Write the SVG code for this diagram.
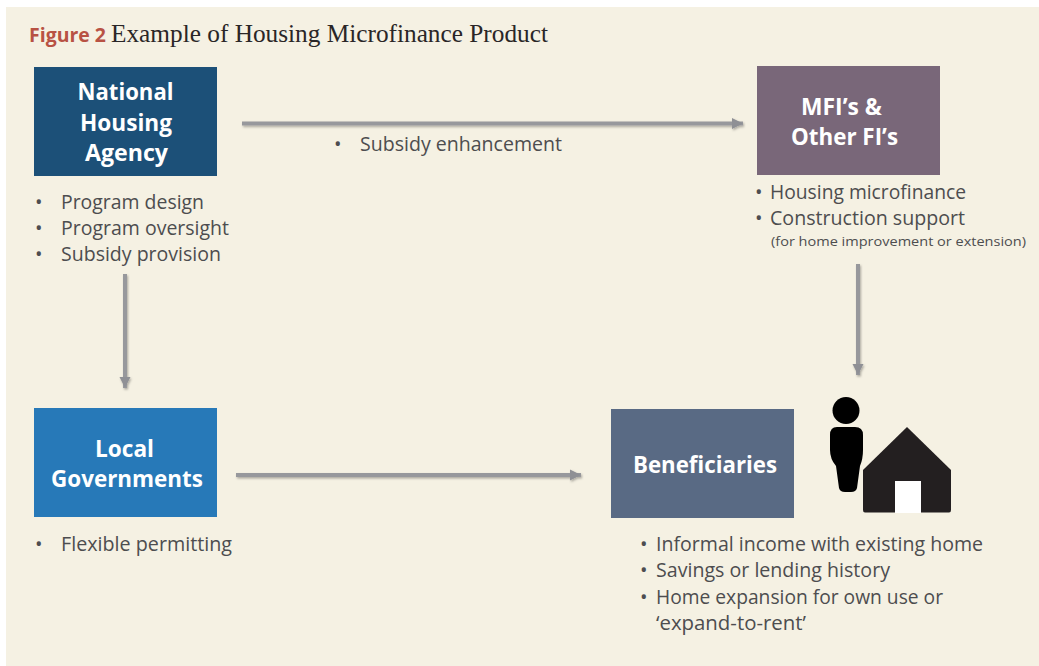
<svg xmlns="http://www.w3.org/2000/svg" width="1039" height="666" viewBox="0 0 1039 666">
<style>
.b{font-family:"Open Sans","Noto Sans",sans-serif;font-size:20px;fill:#4d4d4f}
.h{font-family:"Open Sans","Noto Sans",sans-serif;font-size:24px;font-weight:700;fill:#fff}
.c{fill:none;stroke:#97989c;stroke-width:4;marker-end:url(#a)}
</style>
<defs>
<marker id="a" markerUnits="userSpaceOnUse" markerWidth="14" markerHeight="12" refX="12" refY="6" orient="auto"><path d="M1 0.5L12 6L1 11.500Z" fill="#8f9095"/></marker>
<filter id="s" x="-10%" y="-10%" width="120%" height="120%"><feDropShadow dx="1" dy="1.500" stdDeviation="1.200" flood-color="#000" flood-opacity=".3"/></filter>
</defs>
<rect width="1039" height="666" fill="#fff"/>
<rect x="6" y="7" width="1033" height="659" fill="#f5f1e3"/>
<g id="title"><text x="29" y="42" font-family="'Open Sans','Noto Sans',sans-serif" font-weight="700" font-size="20" fill="#b85244" textLength="77" lengthAdjust="spacingAndGlyphs">Figure 2</text>
<text x="111" y="42" font-family="'Liberation Serif',serif" font-size="26" fill="#2a2627" textLength="437" lengthAdjust="spacingAndGlyphs">Example of Housing Microfinance Product</text></g>
<g id="connectors" filter="url(#s)">
<path class="c" d="M242 123.500H743"/>
<path class="c" d="M125 274V388"/>
<path class="c" d="M858 264V375"/>
<path class="c" d="M236 475H581"/>
</g>
<g id="national-housing-agency"><rect x="34" y="67" width="183" height="109" fill="#1c5078"/>
<text class="h" x="77.500" y="100" textLength="96" lengthAdjust="spacingAndGlyphs">National</text><text class="h" x="80" y="131" textLength="92" lengthAdjust="spacingAndGlyphs">Housing</text><text class="h" x="85" y="161" textLength="83" lengthAdjust="spacingAndGlyphs">Agency</text>
<g class="b"><text x="35" y="209">•</text><text x="35" y="235">•</text><text x="35" y="261">•</text>
<text x="61" y="209" textLength="143" lengthAdjust="spacingAndGlyphs">Program design</text><text x="61" y="235" textLength="168" lengthAdjust="spacingAndGlyphs">Program oversight</text><text x="61" y="261" textLength="160" lengthAdjust="spacingAndGlyphs">Subsidy provision</text></g></g>
<g id="subsidy-label" class="b"><text x="334" y="151">•</text><text x="360" y="151" textLength="202" lengthAdjust="spacingAndGlyphs">Subsidy enhancement</text></g>
<g id="mfi"><rect x="757" y="66" width="183" height="109" fill="#796779"/>
<text class="h" x="801" y="114.500" textLength="81" lengthAdjust="spacingAndGlyphs">MFI’s &amp;</text><text class="h" x="791" y="145" textLength="107" lengthAdjust="spacingAndGlyphs">Other FI’s</text>
<g class="b"><text x="755" y="199">•</text><text x="755" y="225">•</text>
<text x="770" y="199" textLength="196" lengthAdjust="spacingAndGlyphs">Housing microfinance</text><text x="770" y="225" textLength="195" lengthAdjust="spacingAndGlyphs">Construction support</text>
<text x="771" y="246" font-size="13.500" textLength="255" lengthAdjust="spacingAndGlyphs">(for home improvement or extension)</text></g></g>
<g id="local-governments"><rect x="34" y="408" width="183" height="109" fill="#2779b8"/>
<text class="h" x="95" y="457" textLength="59" lengthAdjust="spacingAndGlyphs">Local</text><text class="h" x="51" y="487" textLength="152" lengthAdjust="spacingAndGlyphs">Governments</text>
<g class="b"><text x="35" y="551">•</text><text x="61" y="551" textLength="171" lengthAdjust="spacingAndGlyphs">Flexible permitting</text></g></g>
<g id="beneficiaries"><rect x="611" y="409" width="183" height="109" fill="#596a84"/>
<text class="h" x="633" y="473" textLength="144" lengthAdjust="spacingAndGlyphs">Beneficiaries</text>
<g class="b"><text x="640" y="551">•</text><text x="640" y="577">•</text><text x="640" y="604">•</text>
<text x="656" y="551" textLength="327" lengthAdjust="spacingAndGlyphs">Informal income with existing home</text><text x="656" y="577" textLength="234" lengthAdjust="spacingAndGlyphs">Savings or lending history</text><text x="656" y="604" textLength="287" lengthAdjust="spacingAndGlyphs">Home expansion for own use or</text><text x="656" y="630" textLength="150" lengthAdjust="spacingAndGlyphs">‘expand-to-rent’</text></g></g>
<g id="person-house-icon">
<circle cx="846" cy="410.500" r="13.500" fill="#000"/>
<path d="M837 427H855Q863 427 863 435V450Q863 459 860 466L857 488Q856 492 851 492H845Q840 492 839 488L836 466Q830 459 830 450V435Q830 427 837 427Z" fill="#000"/>
<path d="M907 427L951 470V510Q951 512.500 949 512.500H865Q863 512.500 863 510V470Z" fill="#231f20"/>
<rect x="895" y="481" width="26" height="32" fill="#fff"/>
</g>
</svg>
